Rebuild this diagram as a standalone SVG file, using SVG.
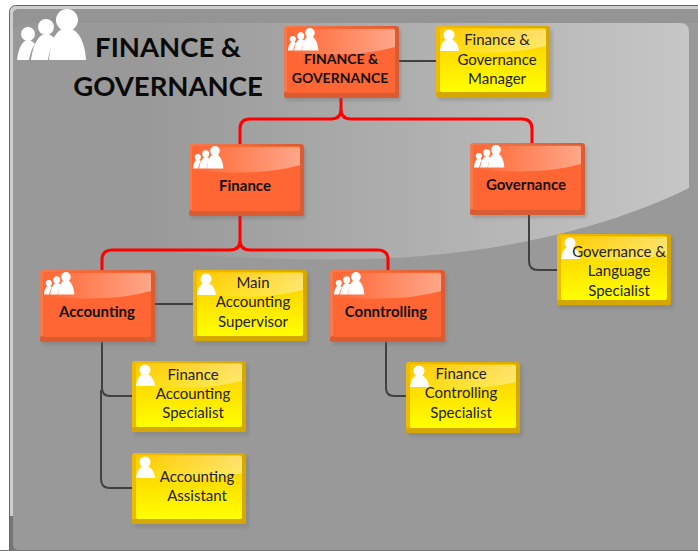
<svg xmlns="http://www.w3.org/2000/svg" xmlns:xlink="http://www.w3.org/1999/xlink" width="698" height="551" viewBox="0 0 698 551">
<style>
text{font-family:Lato,"Liberation Sans",sans-serif;text-anchor:middle;fill:#111}
.o{font-weight:700;font-size:15px}
.o2{font-weight:700;font-size:14px}
.y{font-size:15px;fill:#222}
.t{font-weight:700;font-size:27.5px;fill:#0a0a0a}
.red{fill:none;stroke:#f00;stroke-width:3}
.blk{fill:none;stroke:#404040;stroke-width:2}
.w{fill:#fff}
</style>
<defs>
<filter id="soft" x="-10%" y="-10%" width="120%" height="120%"><feGaussianBlur stdDeviation="1.5"/></filter>
<linearGradient id="swoosh" x1="0" x2="1" y1="0" y2="0"><stop offset="0" stop-color="#c6c6c6" stop-opacity="0"/><stop offset="1" stop-color="#c6c6c6"/></linearGradient>
<linearGradient id="yb" x1="0" x2="0" y1="0" y2="1"><stop offset="0" stop-color="#ffc800"/><stop offset="1" stop-color="#ffff00"/></linearGradient>
<linearGradient id="ye" x1="0" x2="1" y1="0" y2="0"><stop offset="0" stop-color="#f0bc00"/><stop offset="1" stop-color="#d4a800"/></linearGradient>
<linearGradient id="oe" x1="0" x2="1" y1="0" y2="0"><stop offset="0" stop-color="#f47a50"/><stop offset="1" stop-color="#d95c32"/></linearGradient>
<linearGradient id="gloss" x1="0" x2="1" y1="0" y2="0"><stop offset="0" stop-color="#fff" stop-opacity="0"/><stop offset="1" stop-color="#fff" stop-opacity=".42"/></linearGradient>
<g id="group"><circle class="w" cx="67" cy="20" r="11"/><path class="w" d="M49 60C50 42 56 28 67 28C78 28 85 42 86 60Z"/><circle class="w" cx="46" cy="27" r="8"/><path class="w" d="M31 60C33 46 38 34 46 34C50 34 53 36 55 39C51 45 49 52 48 60Z"/><circle class="w" cx="28" cy="34" r="7"/><path class="w" d="M17 60C18 50 22 40 28 40C31 40 33 42 35 44C32 48 30 54 29 60Z"/></g>
<g id="person"><circle class="w" cx="13" cy="9" r="5.5"/><path class="w" d="M4 25C5 17 8 13 13 13C18 13 22 17 23 25Z"/></g>
<g id="org">
<rect x="2" y="3" width="115" height="72" rx="3" fill="#666" opacity=".3" filter="url(#soft)"/>
<rect width="115" height="72" rx="3" fill="url(#oe)"/>
<rect x="0" y="66" width="115" height="6" rx="2" fill="#d95c32"/>
<rect x="3" y="2" width="108" height="65" rx="2" fill="#ff6633"/>
<path d="M3 3H109Q111 3 111 5V21Q70 33 3 26Z" fill="url(#gloss)"/>
<use href="#group" transform="translate(-3.5 -2) scale(.44)"/>
</g>
<g id="pos">
<rect x="2" y="3" width="115" height="72" rx="3" fill="#666" opacity=".25" filter="url(#soft)"/>
<rect width="114" height="71" rx="3" fill="url(#ye)"/>
<rect x="0" y="66" width="114" height="5" rx="2" fill="#d4a800"/>
<rect x="4" y="2" width="106" height="64" rx="2" fill="url(#yb)"/>
<path d="M4 3H108Q110 3 110 5V20Q60 32 4 23Z" fill="url(#gloss)"/>
<use href="#person"/>
</g>
</defs>
<rect width="698" height="551" fill="#fff"/>
<rect x="9.500" y="5.500" width="700" height="560" rx="6" fill="#cdcdcd" stroke="#666"/>
<rect x="10" y="516" width="8" height="34" fill="#757575"/>
<path d="M13 15Q13 9 19 9H698V550H19Q13 550 13 544Z" fill="#999"/>
<rect x="0" y="550" width="698" height="1" fill="#777"/>
<path d="M19 9H698V23H30Q19 23 13 30V15Q13 9 19 9Z" fill="#949494"/>
<path d="M150 23H680Q689 23 689 32V188C600 232 480 257 360 259C290 260 210 258 150 250Z" fill="url(#swoosh)"/>
<g id="connectors">
<path class="red" d="M341 98V109Q341 119 331 119H250Q240 119 240 129V144M341 109Q341 119 351 119H522Q532 119 532 129V143"/>
<path class="red" d="M240 215V240Q240 250 230 250H112Q102 250 102 260V270M240 240Q240 250 250 250H378Q388 250 388 260V270"/>
<path class="blk" d="M399 61H436M155 304H193"/>
<path class="blk" d="M529 214V261Q529 270 538 270H557"/>
<path class="blk" d="M102 341V388Q102 396 110 396H132M101 390V479Q101 488 110 488H132"/>
<path class="blk" d="M386 341V388Q386 396 394 396H406"/>
</g>
<g id="title"><use href="#group"/><text class="t" x="168" y="57">FINANCE &amp;</text><text class="t" x="168" y="96">GOVERNANCE</text></g>
<g id="n-fg"><use href="#org" x="284" y="26"/><text class="o2" x="341" y="64">FINANCE &amp;</text><text class="o2" x="340" y="83">GOVERNANCE</text></g>
<g id="n-mgr"><use href="#pos" x="436" y="26"/><text class="y" x="497" y="45">Finance &amp;</text><text class="y" x="497" y="65">Governance</text><text class="y" x="497" y="84">Manager</text></g>
<g id="n-fin"><use href="#org" x="189" y="144"/><text class="o" x="245" y="191">Finance</text></g>
<g id="n-gov"><use href="#org" x="470" y="143"/><text class="o" x="526" y="190">Governance</text></g>
<g id="n-lang"><use href="#pos" x="557" y="234"/><text class="y" x="619" y="257">Governance &amp;</text><text class="y" x="619" y="276">Language</text><text class="y" x="619" y="296">Specialist</text></g>
<g id="n-acc"><use href="#org" x="40" y="270"/><text class="o" x="97" y="317">Accounting</text></g>
<g id="n-main"><use href="#pos" x="193" y="270"/><text class="y" x="253" y="288">Main</text><text class="y" x="253" y="307">Accounting</text><text class="y" x="253" y="327">Supervisor</text></g>
<g id="n-ctl"><use href="#org" x="330" y="270"/><text class="o" x="386" y="317">Conntrolling</text></g>
<g id="n-fas"><use href="#pos" x="132" y="361"/><text class="y" x="193" y="380">Finance</text><text class="y" x="193" y="399">Accounting</text><text class="y" x="193" y="418">Specialist</text></g>
<g id="n-ass"><use href="#pos" x="132" y="453"/><text class="y" x="197" y="482">Accounting</text><text class="y" x="197" y="501">Assistant</text></g>
<g id="n-cs"><use href="#pos" x="406" y="362"/><text class="y" x="461" y="379">Finance</text><text class="y" x="461" y="398">Controlling</text><text class="y" x="461" y="418">Specialist</text></g>
</svg>
